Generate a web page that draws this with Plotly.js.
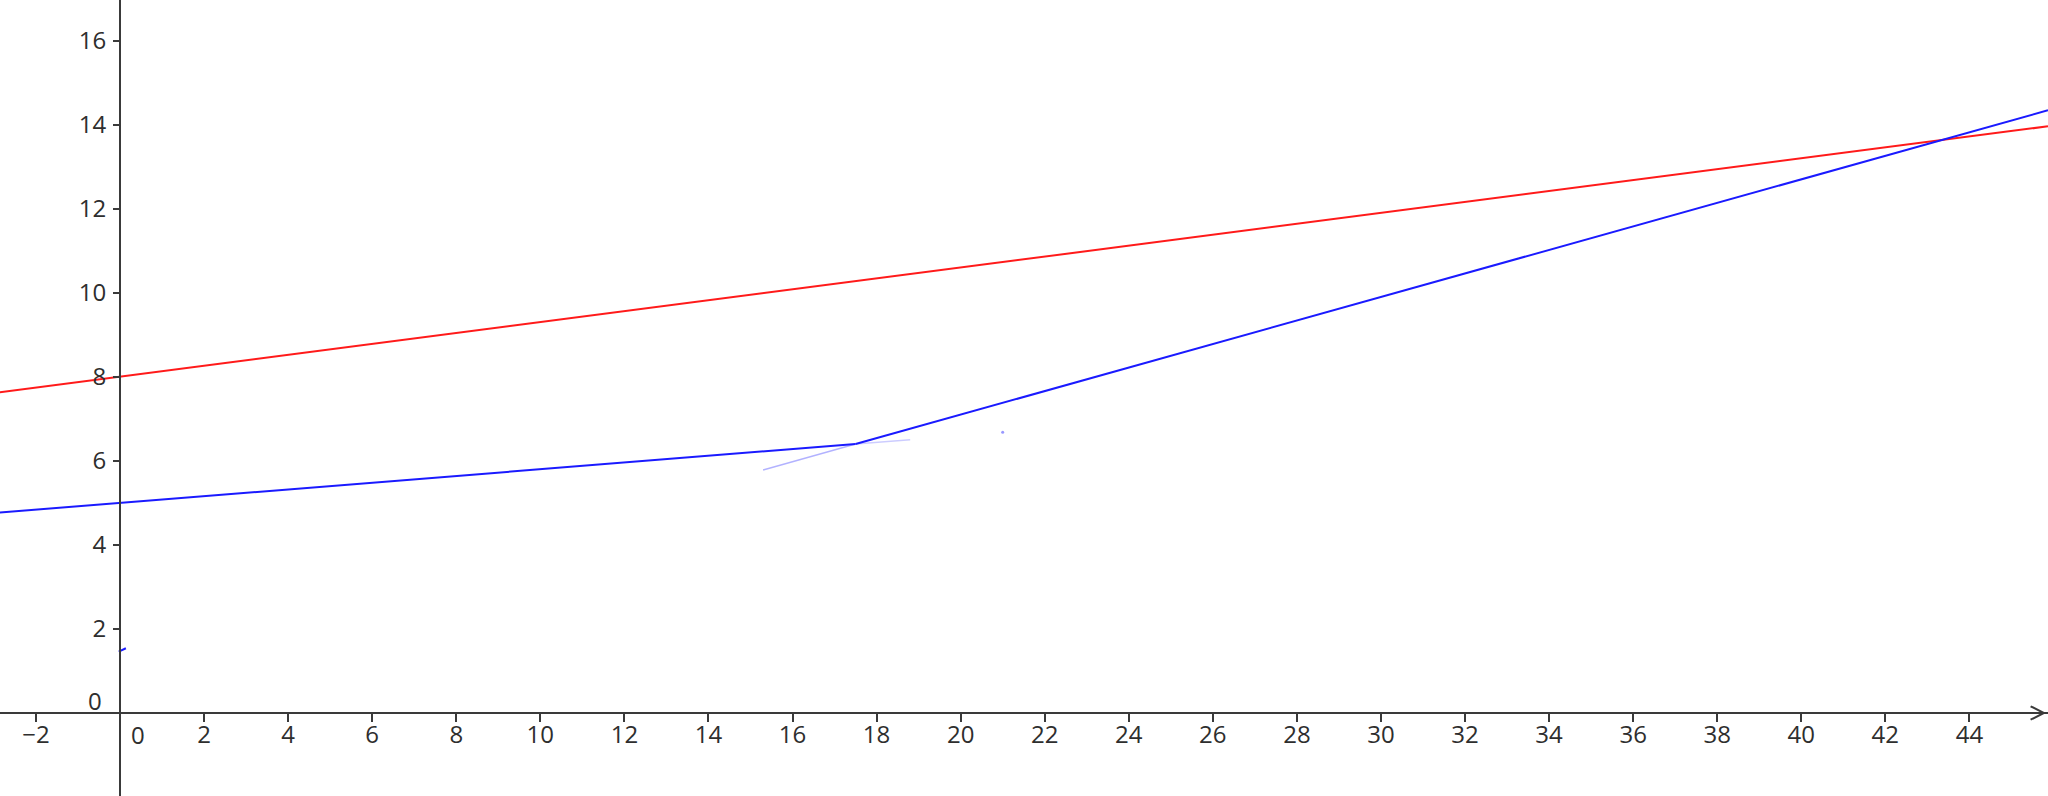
<!DOCTYPE html>
<html>
<head>
<meta charset="utf-8">
<script src="https://cdn.plot.ly/plotly-3.0.1.min.js"></script>
<style>html,body{margin:0;padding:0;background:#fff;}#chart{width:2048px;height:796px;}</style>
</head>
<body>
<div id="chart"></div>
<script>
// Values
const redX = [-2.86, 45.87];
const redY = [7.63, 13.96];
const blue1X = [-2.86, 17.5];
const blue1Y = [4.77, 6.4];
const blue1TailX = [17.5, 18.8];
const blue1TailY = [6.4, 6.5];
const blue2X = [17.5, 45.87];
const blue2Y = [6.4, 14.34];
const blue2FaintX = [15.3, 17.5];
const blue2FaintY = [5.78, 6.4];
const blueDashX = [-0.03, 0.14];
const blueDashY = [1.46, 1.54];
const dotX = [21.0];
const dotY = [6.68];
const xTicks = [-2, 2, 4, 6, 8, 10, 12, 14, 16, 18, 20, 22, 24, 26, 28, 30, 32, 34, 36, 38, 40, 42, 44];
const yTicks = [2, 4, 6, 8, 10, 12, 14, 16];

const W = 2048, H = 796;
const xRange = [-2.855, 45.87];
const yRange = [-1.975, 16.965];
const axisCol = '#3a3a3a';
const txtCol = '#2e2e2e';
const fontFam = '"Open Sans", "DejaVu Sans", sans-serif';
const fs = 24;

const traces = [
  {x: blue2FaintX, y: blue2FaintY, mode: 'lines', line: {color: '#0000ff', width: 1.5}, opacity: 0.3, hoverinfo: 'skip'},
  {x: blue1TailX, y: blue1TailY, mode: 'lines', line: {color: '#0000ff', width: 1.5}, opacity: 0.2, hoverinfo: 'skip'},
  {x: redX, y: redY, mode: 'lines', line: {color: '#ff1a1a', width: 2}},
  {x: blue1X, y: blue1Y, mode: 'lines', line: {color: '#1a1aff', width: 2}},
  {x: blue2X, y: blue2Y, mode: 'lines', line: {color: '#1a1aff', width: 2}},
  {x: blueDashX, y: blueDashY, mode: 'lines', line: {color: '#1a1aff', width: 2}},
  {x: dotX, y: dotY, mode: 'markers', marker: {color: '#5555ff', size: 3}, opacity: 0.6}
];

const xPos = (0 - yRange[0]) / (yRange[1] - yRange[0]);
const yPos = (0 - xRange[0]) / (xRange[1] - xRange[0]);

const layout = {
  width: W, height: H,
  margin: {l: 0, r: 0, t: 0, b: 0, pad: 0},
  paper_bgcolor: '#ffffff', plot_bgcolor: '#ffffff',
  showlegend: false,
  xaxis: {
    range: xRange, anchor: 'free', position: xPos,
    showgrid: false, zeroline: false, showline: true, linecolor: axisCol, linewidth: 2,
    ticks: 'outside', ticklen: 8, tickwidth: 2, tickcolor: axisCol,
    tickmode: 'array', tickvals: xTicks, ticktext: xTicks.map(v => v < 0 ? '\u2212' + Math.abs(v) : String(v)),
    tickfont: {family: fontFam, size: fs, color: txtCol}, ticklabelstandoff: -8,
    fixedrange: true
  },
  yaxis: {
    range: yRange, anchor: 'free', position: yPos,
    showgrid: false, zeroline: false, showline: true, linecolor: axisCol, linewidth: 2,
    ticks: 'outside', ticklen: 6, tickwidth: 2, tickcolor: axisCol,
    tickmode: 'array', tickvals: yTicks, ticktext: yTicks.map(String),
    tickfont: {family: fontFam, size: fs, color: txtCol}, ticklabelstandoff: 2,
    fixedrange: true
  },
  shapes: [
    {type: 'path', xref: 'paper', yref: 'y',
     path: 'M 0.9915 0.16 L 0.9980 0 L 0.9915 -0.16',
     line: {color: axisCol, width: 2}}
  ],
  annotations: [
    {x: 0, y: 0, xref: 'x', yref: 'y', text: '0', showarrow: false, xanchor: 'right', yanchor: 'middle',
     xshift: -16, yshift: 13, font: {family: fontFam, size: fs, color: txtCol}},
    {x: 0, y: 0, xref: 'x', yref: 'y', text: '0', showarrow: false, xanchor: 'center', yanchor: 'middle',
     xshift: 18, yshift: -21, font: {family: fontFam, size: fs, color: txtCol}}
  ]
};

Plotly.newPlot('chart', traces, layout, {displayModeBar: false, staticPlot: true});
</script>
</body>
</html>
